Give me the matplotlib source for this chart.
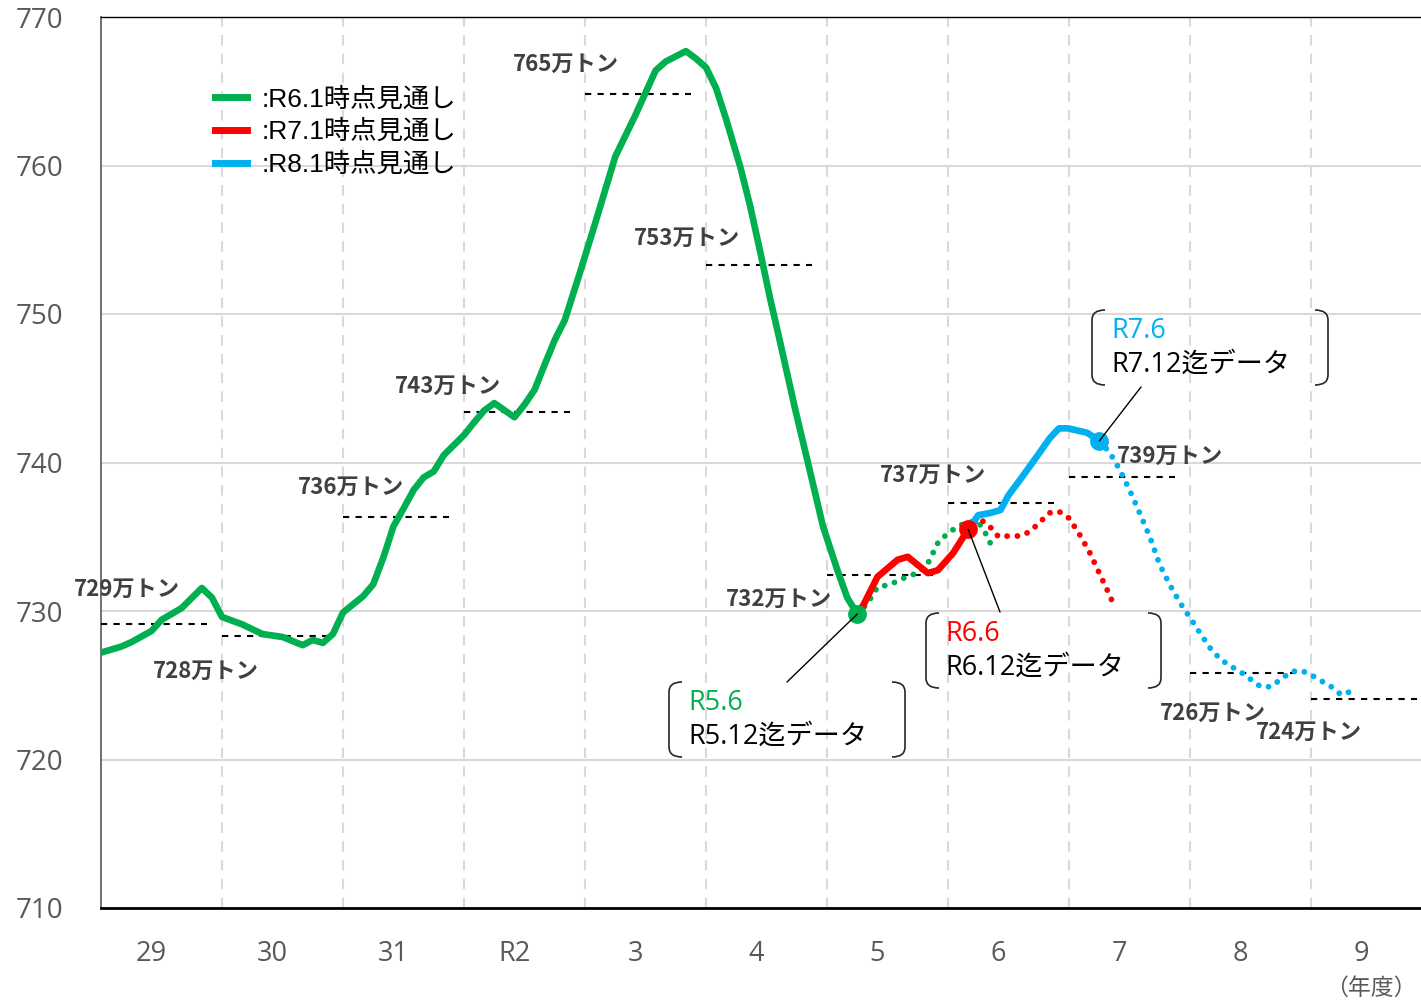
import matplotlib
matplotlib.use('Agg')
import matplotlib.pyplot as plt
from matplotlib.lines import Line2D
from matplotlib.path import Path
from matplotlib.patches import PathPatch

# ---------------- data ----------------
year_labels = ['29', '30', '31', 'R2', '3', '4', '5', '6', '7', '8', '9']

# R6.1 outlook (actual, solid) : month index from start of FY29, value (10k t)
green_months = [0, 2, 3, 5, 6, 8, 10, 11, 12, 14, 16, 18, 20, 21, 22, 23, 24, 26, 27, 28,
                29, 30, 31, 32, 33, 34, 36, 37, 38, 39, 41, 42, 43, 44, 45, 46, 47.5, 49,
                51, 53, 55, 56, 58, 59, 60, 61, 62, 63.4, 64.4, 65.4, 66.4, 67.3, 68.8,
                70.1, 71.6, 73, 74, 75]
green_values = [727.2, 727.6, 727.9, 728.65, 729.4, 730.2, 731.55, 730.9, 729.6, 729.1,
                728.45, 728.25, 727.7, 728.05, 727.85, 728.45, 729.9, 731.0, 731.8, 733.6,
                735.7, 736.9, 738.15, 739.0, 739.4, 740.5, 741.85, 742.7, 743.5, 744.0,
                743.05, 743.9, 744.9, 746.6, 748.25, 749.6, 752.8, 756.1, 760.6, 763.4,
                766.4, 767.0, 767.7, 767.2, 766.6, 765.2, 763.1, 759.9, 757.2, 754.1,
                750.9, 748.25, 743.7, 740.0, 735.7, 732.8, 730.9, 729.8]

# R6.1 outlook (forecast, dotted)
green_fc_months = [75, 76, 77, 78, 79, 80, 81, 82, 83, 84, 85, 86, 87, 87.7, 88.6]
green_fc_values = [729.8, 730.5, 731.6, 731.75, 732.0, 732.35, 732.55, 733.2, 734.6,
                   735.25, 735.7, 736.0, 736.0, 735.25, 734.0]

# R7.1 outlook (actual, solid)
red_months = [75, 75.6, 77, 79, 80, 82, 83, 84.5, 86]
red_values = [729.8, 730.4, 732.3, 733.45, 733.65, 732.55, 732.75, 733.9, 735.5]

# R7.1 outlook (forecast, dotted)
red_fc_months = [86, 87, 88, 89, 90, 91, 92, 93, 94, 95, 96, 97, 98, 99, 100, 100.5]
red_fc_values = [735.5, 736.25, 735.8, 735.0, 735.05, 735.05, 735.3, 735.9, 736.6, 736.7,
                 736.25, 735.2, 734.0, 732.55, 731.1, 730.3]

# R8.1 outlook (actual, solid)
blue_months = [86, 87, 88.2, 89.2, 90, 91.1, 92.8, 94.1, 95, 95.9, 97.8, 99]
blue_values = [735.5, 736.45, 736.6, 736.8, 737.8, 738.8, 740.4, 741.65, 742.3, 742.3,
               742.0, 741.45]

# R8.1 outlook (forecast, dotted)
blue_fc_months = [99, 100, 101, 102, 103, 104, 105, 106, 107, 108, 109, 110, 111, 112,
                  113, 114, 115, 116, 117, 118, 119, 120, 121, 122, 123, 124]
blue_fc_values = [741.45, 740.7, 739.55, 738.15, 736.6, 735.0, 733.1, 731.75, 730.55,
                  729.55, 728.5, 727.5, 726.75, 726.3, 725.9, 725.4, 724.9, 724.9, 725.4,
                  725.9, 726.0, 725.7, 725.3, 724.9, 724.35, 724.6]

# annual averages (10k t)
annual_avg = [729.1, 728.3, 736.3, 743.4, 764.8, 753.3, 732.4, 737.3, 739.0, 725.8, 724.1]
annual_labels = ['729万トン', '728万トン', '736万トン', '743万トン', '765万トン', '753万トン',
                 '732万トン', '737万トン', '739万トン', '726万トン', '724万トン']

legend_labels = [':R6.1時点見通し', ':R7.1時点見通し', ':R8.1時点見通し']

# ---------------- style ----------------
GREEN = '#00B050'
RED = '#FF0000'
BLUE = '#00B0F0'
GRAY = '#595959'
LABEL = '#404040'
CJK = 'Noto Sans CJK JP'

W, H = 1421, 1008
fig = plt.figure(figsize=(W / 100, H / 100), dpi=100)
ax = fig.add_axes([101 / W, 100 / H, 1 - 101 / W, (908 - 17) / H])

ax.set_xlim(0, 130.9)
ax.set_ylim(710, 770)

# grid
ax.set_yticks(range(710, 771, 10))
ax.yaxis.grid(True, color='#D9D9D9', lw=1.5, zorder=0)
ax.set_xticks([12 * k + 5 for k in range(len(year_labels))])
ax.set_xticklabels(year_labels)
ax.set_xticks([12 * k for k in range(1, len(year_labels))], minor=True)
ax.xaxis.grid(True, which='minor', color='#D9D9D9', lw=1.5, ls=(0, (5, 4)), zorder=0)
ax.set_axisbelow(True)
ax.tick_params(axis='both', which='both', length=0)
ax.tick_params(axis='y', pad=27, labelsize=20, labelcolor=GRAY)
ax.tick_params(axis='x', pad=23, labelsize=19.5, labelcolor=GRAY)
for lab in ax.get_xticklabels() + ax.get_yticklabels():
    lab.set_family(['Open Sans', CJK])

ax.spines['right'].set_visible(False)
ax.spines['top'].set_color('black')
ax.spines['top'].set_linewidth(1.0)
ax.spines['left'].set_color('#595959')
ax.spines['left'].set_linewidth(1.2)
ax.spines['bottom'].set_color('black')
ax.spines['bottom'].set_linewidth(2.0)

# annual average dashed lines
for k, v in enumerate(annual_avg):
    ax.plot([12 * k, 12 * k + 10.5], [v, v], color='black', lw=1.5, ls=(0, (3, 3)), zorder=3)

LW = 4.8
DOT = (0, (0.01, 1.75))
ax.plot(green_fc_months, green_fc_values, color=GREEN, lw=4.2, ls=DOT,
        dash_capstyle='round', zorder=4)
ax.plot(red_fc_months, red_fc_values, color=RED, lw=4.2, ls=DOT,
        dash_capstyle='round', zorder=4)
ax.plot(blue_fc_months, blue_fc_values, color=BLUE, lw=4.2, ls=DOT,
        dash_capstyle='round', zorder=4)
ax.plot(green_months, green_values, color=GREEN, lw=LW, solid_joinstyle='round',
        solid_capstyle='round', zorder=6)
ax.plot(red_months, red_values, color=RED, lw=LW, solid_joinstyle='round',
        solid_capstyle='round', zorder=6)
ax.plot(blue_months, blue_values, color=BLUE, lw=LW, solid_joinstyle='round',
        solid_capstyle='round', zorder=6)

# points at end of actual data
ax.plot([green_months[-1]], [green_values[-1]], 'o', color=GREEN, ms=12.5, zorder=7)
ax.plot([red_months[-1]], [red_values[-1]], 'o', color=RED, ms=12.5, zorder=7)
ax.plot([blue_months[-1]], [blue_values[-1]], 'o', color=BLUE, ms=12.5, zorder=7)

# legend
handles = [Line2D([], [], color=c, lw=5) for c in (GREEN, RED, BLUE)]
leg = ax.legend(handles, legend_labels, loc='upper left',
                bbox_to_anchor=(215 / W, 1 - 87 / H), bbox_transform=fig.transFigure,
                frameon=False, borderaxespad=0, borderpad=0, handlelength=1.2,
                handletextpad=0.55, labelspacing=0.31,
                prop={'family': ['Liberation Sans', CJK], 'size': 19})

# helper: figure pixels (from top-left) -> figure fraction
def fp(px, py):
    return px / W, 1 - py / H

# annual labels
label_pos = [(127, 589), (206, 671), (351, 487), (448, 386), (566, 64), (687, 238),
             (779, 599), (933, 475), (1170, 456), (1213, 713), (1309, 732)]
for txt, (px, py) in zip(annual_labels, label_pos):
    x, y = fp(px, py)
    fig.text(x, y, txt, ha='center', va='center', fontsize=16, fontweight='bold',
             color=LABEL, family=[CJK])

# callout brackets
def bracket_box(x0, x1, y0, y1, hook=13, r=10):
    codes = [Path.MOVETO, Path.CURVE3, Path.CURVE3, Path.LINETO, Path.CURVE3, Path.CURVE3]
    for xe, s in ((x0, 1), (x1, -1)):
        verts = [fp(xe + s * hook, y0), fp(xe, y0), fp(xe, y0 + r), fp(xe, y1 - r),
                 fp(xe, y1), fp(xe + s * hook, y1)]
        fig.patches.append(PathPatch(Path(verts, codes), fill=False, ec='#262626', lw=1.2,
                                     transform=fig.transFigure, figure=fig))

callouts = [
    ((669, 905, 682, 757), 'R5.6', 'R5.12迄データ', GREEN, (787, 682),
     (green_months[-1], green_values[-1])),
    ((926, 1161, 613, 688), 'R6.6', 'R6.12迄データ', RED, (1000, 612),
     (red_months[-1], red_values[-1])),
    ((1092, 1328, 310, 385), 'R7.6', 'R7.12迄データ', BLUE, (1141, 387),
     (blue_months[-1], blue_values[-1])),
]
for (x0, x1, y0, y1), t1, t2, col, (lx, ly), pt in callouts:
    bracket_box(x0, x1, y0, y1)
    fig.text(*fp(x0 + 19, y0 + 21), t1, ha='left', va='center', fontsize=19.5, color=col,
             family=['Open Sans', CJK])
    fig.text(*fp(x0 + 19, y0 + 55), t2, ha='left', va='center', fontsize=19.5,
             color='black', family=['Open Sans', CJK])
    ax.annotate('', xy=pt, xycoords='data', xytext=(lx, H - ly),
                textcoords='figure pixels',
                arrowprops=dict(arrowstyle='-', color='black', lw=1.0,
                                shrinkA=0, shrinkB=0), zorder=8)

fig.text(*fp(1371, 988), '（年度）', ha='center', va='center', fontsize=16.5, color=GRAY,
         family=[CJK])

fig.savefig('out.png', dpi=100)
